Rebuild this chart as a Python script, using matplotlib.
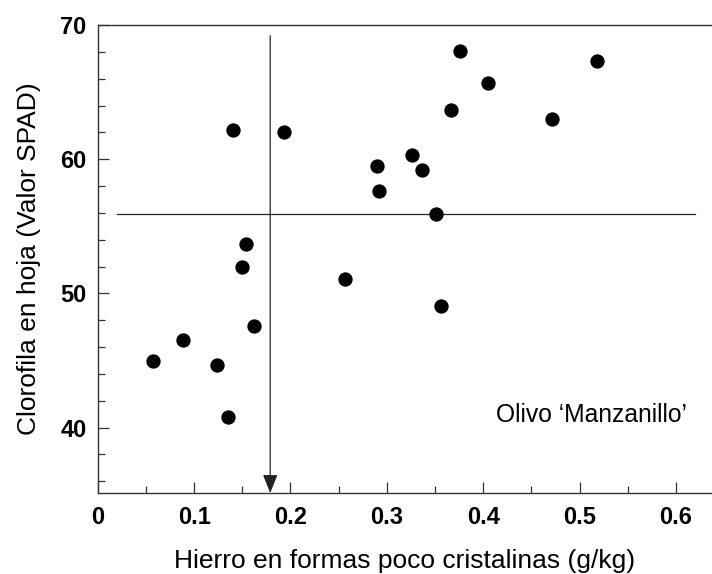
import matplotlib
matplotlib.use('Agg')
import matplotlib.pyplot as plt
from matplotlib.ticker import MultipleLocator

# Hierro en formas poco cristalinas (g/kg) vs clorofila (SPAD)
hierro = [0.057, 0.089, 0.124, 0.135, 0.162, 0.150, 0.154, 0.140, 0.193, 0.257,
          0.290, 0.292, 0.326, 0.337, 0.351, 0.356, 0.367, 0.376, 0.405, 0.471, 0.518]
clorofila = [45.0, 46.5, 44.7, 40.8, 47.6, 52.0, 53.7, 62.2, 62.0, 51.1,
             59.5, 57.6, 60.3, 59.2, 55.9, 49.1, 63.7, 68.1, 65.7, 63.0, 67.3]

umbral_x = 0.179      # nivel critico de hierro
umbral_y = 55.9       # nivel critico de clorofila
texto = "Olivo \u2018Manzanillo\u2019"

plt.rcParams['font.family'] = ['Liberation Sans', 'DejaVu Sans']

fig = plt.figure(figsize=(7.12, 5.74), dpi=100)
ax = fig.add_axes([0.1372, 0.1411, 0.8628, 0.8153])

ax.plot(hierro, clorofila, 'o', color='black', ms=9.3, mec='black', zorder=3)

# lineas de referencia
ax.plot([0.020, 0.620], [umbral_y, umbral_y], color='#222222', lw=0.9)
ax.annotate('', xy=(umbral_x, 35.13), xytext=(umbral_x, 69.2),
            arrowprops=dict(arrowstyle='-|>,head_length=0.75,head_width=0.3',
                            mutation_scale=15, color='#222222', lw=0.9,
                            shrinkA=0, shrinkB=0))

ax.text(0.6115, 40.95, texto, ha='right', va='center', fontsize=17.7)

ax.set_xlim(0, 0.6374)
ax.set_ylim(35.13, 70)
ax.xaxis.set_major_locator(MultipleLocator(0.1))
ax.xaxis.set_minor_locator(MultipleLocator(0.05))
ax.yaxis.set_major_locator(MultipleLocator(10))
ax.yaxis.set_minor_locator(MultipleLocator(2))
ax.set_xticks([0, 0.1, 0.2, 0.3, 0.4, 0.5, 0.6])
ax.set_xticklabels(['0', '0.1', '0.2', '0.3', '0.4', '0.5', '0.6'])

ax.tick_params(which='both', direction='in', color='#333333', width=0.9,
               labelsize=17, top=False, right=False)
ax.tick_params(axis='x', pad=9)
ax.tick_params(axis='y', pad=8)
ax.tick_params(which='major', length=8)
ax.tick_params(which='minor', length=5.3)
for lab in ax.get_xticklabels() + ax.get_yticklabels():
    lab.set_fontweight('bold')

ax.spines['right'].set_visible(False)
for s in ['left', 'bottom', 'top']:
    ax.spines[s].set_color('#333333')
    ax.spines[s].set_linewidth(1.0)

ax.set_xlabel('Hierro en formas poco cristalinas (g/kg)', fontsize=19, labelpad=15)
ax.set_ylabel('Clorofila en hoja (Valor SPAD)', fontsize=19, labelpad=14)

fig.savefig('out.png', dpi=100)
